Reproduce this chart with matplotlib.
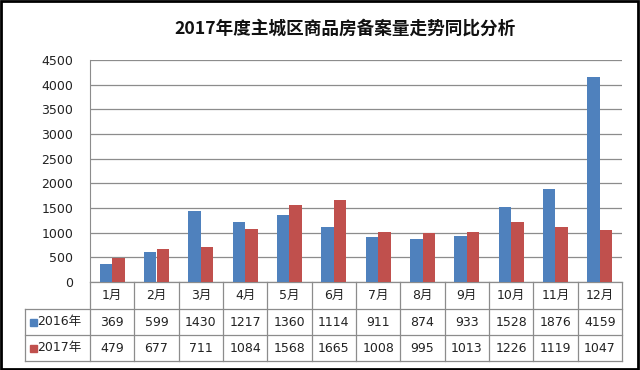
import matplotlib
matplotlib.use("Agg")
import matplotlib.pyplot as plt
import numpy as np
from matplotlib.patches import Rectangle
from matplotlib.lines import Line2D

plt.rcParams['font.family'] = ['DejaVu Sans', 'Noto Sans CJK SC']

title = "2017年度主城区商品房备案量走势同比分析"
months = ["1月", "2月", "3月", "4月", "5月", "6月", "7月", "8月", "9月", "10月", "11月", "12月"]
series_names = ["2016年", "2017年"]
v2016 = [369, 599, 1430, 1217, 1360, 1114, 911, 874, 933, 1528, 1876, 4159]
v2017 = [479, 677, 711, 1084, 1568, 1665, 1008, 995, 1013, 1226, 1119, 1047]
yticks = [0, 500, 1000, 1500, 2000, 2500, 3000, 3500, 4000, 4500]

blue = "#4F81BD"
red = "#C0504D"
grid_c = "#8C8C8C"
txt_c = "#222222"
fs = 9

W, H = 640, 370
fig = plt.figure(figsize=(6.4, 3.7), dpi=100)
L, R, T, B = 90, 622, 60, 282
ax = fig.add_axes([L / W, 1 - B / H, (R - L) / W, (B - T) / H])

x = np.arange(len(months))
bw = 0.28
ax.bar(x - bw / 2, v2016, width=bw, color=blue, zorder=3)
ax.bar(x + bw / 2, v2017, width=bw, color=red, zorder=3)

ax.set_xlim(-0.5, len(months) - 0.5)
ax.set_ylim(0, 4500)
ax.set_yticks(yticks)
ax.set_yticklabels([str(t) for t in yticks], fontsize=fs, color=txt_c)
ax.yaxis.grid(True, color=grid_c, linewidth=0.9, zorder=0)
ax.set_xticks([])
for s in ["top", "right", "bottom"]:
    ax.spines[s].set_visible(False)
ax.spines["left"].set_color(grid_c)
ax.tick_params(axis="y", length=0, pad=12)

# data table
def ay(py):
    return -(py - B) / (B - T)

def axx(px):
    return (px - L) / (R - L)

tr = ax.transAxes
rows_y = [B, 309, 335, 361]
lab_left = 25
lines = []
lines.append(Line2D([axx(L), axx(R)], [ay(B), ay(B)]))
for yy in rows_y[1:]:
    lines.append(Line2D([axx(lab_left), axx(R)], [ay(yy), ay(yy)]))
for i in range(len(months) + 1):
    xx = axx(L + i * (R - L) / len(months))
    lines.append(Line2D([xx, xx], [ay(B), ay(rows_y[-1])]))
lines.append(Line2D([axx(lab_left), axx(lab_left)], [ay(309), ay(361)]))
for ln in lines:
    ln.set_transform(tr)
    ln.set_color(grid_c)
    ln.set_linewidth(0.9)
    ln.set_clip_on(False)
    ax.add_line(ln)

cw = (R - L) / len(months)
for i, m in enumerate(months):
    cx = axx(L + (i + 0.5) * cw)
    ax.text(cx, ay((B + 309) / 2), m, transform=tr, ha="center", va="center",
            fontsize=fs, color=txt_c, clip_on=False)
    ax.text(cx, ay((309 + 335) / 2), str(v2016[i]), transform=tr, ha="center",
            va="center", fontsize=fs, color=txt_c, clip_on=False)
    ax.text(cx, ay((335 + 361) / 2), str(v2017[i]), transform=tr, ha="center",
            va="center", fontsize=fs, color=txt_c, clip_on=False)

for j, (name, col) in enumerate(zip(series_names, [blue, red])):
    yc = (rows_y[j + 1] + rows_y[j + 2]) / 2
    sq = 7
    ax.add_patch(Rectangle((axx(30), ay(yc + sq / 2)), sq / (R - L), sq / (B - T),
                           transform=tr, color=col, clip_on=False))
    ax.text(axx(37), ay(yc), name, transform=tr, ha="left", va="center",
            fontsize=fs, color=txt_c, clip_on=False)

fig.text(345 / W, 1 - 29 / H, title, ha="center", va="center",
         fontsize=12.7, fontweight="bold", color="#111111",
         family=['Noto Sans CJK SC', 'DejaVu Sans'])

fig.patches.append(Rectangle((0.002, 0.003), 0.995, 0.994, transform=fig.transFigure,
                             fill=False, edgecolor="#000000", linewidth=2))

fig.savefig("out.png", dpi=100)
